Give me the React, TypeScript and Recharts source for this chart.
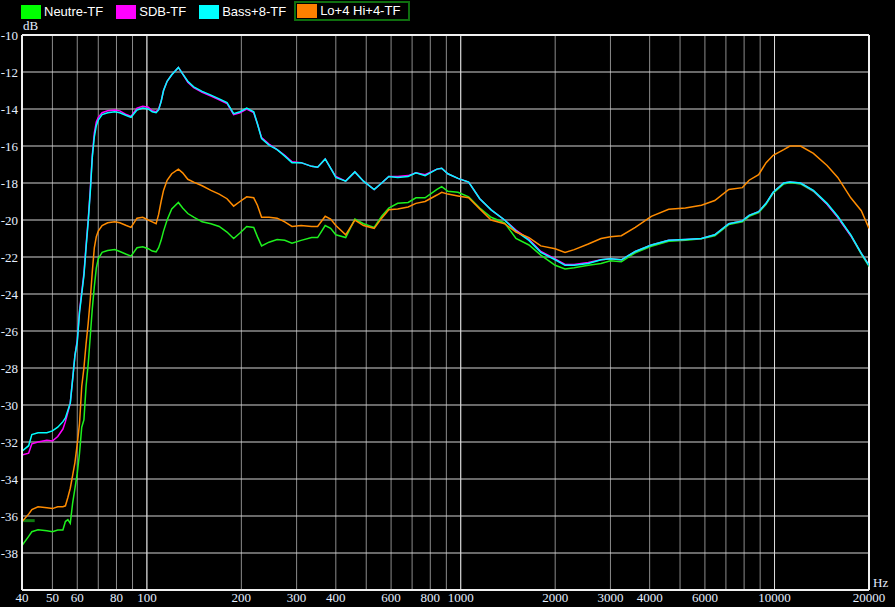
import { LineChart, Line, XAxis, YAxis, CartesianGrid, ReferenceLine } from 'recharts';

// frequency points (Hz)
const freqs = [
  40, 42, 43, 45, 48, 50, 52, 54, 55, 56, 57, 58, 59, 60, 61, 62, 63, 64, 65, 66, 67, 68, 69, 70,
  72, 75, 79, 82, 86, 89, 93, 97, 101, 104, 107, 109, 111, 113, 116, 120, 126, 130, 135, 141, 150,
  160, 170, 180, 189, 198, 208, 219, 225, 232, 245, 260, 275, 290, 310, 335, 350, 370, 385, 400,
  430, 460, 490, 530, 560, 590, 630, 680, 720, 770, 840, 870, 910, 980, 1060, 1150, 1250, 1380,
  1500, 1650, 1800, 2000, 2150, 2300, 2550, 2800, 3000, 3250, 3600, 4050, 4600, 5200, 5850, 6450,
  7150, 7900, 8300, 8900, 9400, 9900, 10700, 11200, 12100, 13300, 14700, 15900, 17500, 18900, 20000,
];

const neutre = [
  -37.6, -37.1, -36.85, -36.75, -36.8, -36.85, -36.76, -36.76, -36.3, -36.2, -36.4, -35.3, -34.5, -33.7, -32.6, -31.2, -30.8, -29.0, -27.8, -26.3, -24.8, -23.6, -22.6, -22.1,
  -21.75, -21.65, -21.6, -21.7, -21.85, -21.95, -21.5, -21.45, -21.55, -21.68, -21.72, -21.5, -21.1, -20.6, -20.0, -19.4, -19.05, -19.35, -19.65, -19.85, -20.1,
  -20.2, -20.35, -20.65, -21.0, -20.7, -20.35, -20.4, -20.9, -21.4, -21.2, -21.05, -21.1, -21.25, -21.1, -20.95, -20.95, -20.3, -20.45, -20.8,
  -20.95, -19.95, -20.2, -20.4, -19.8, -19.35, -19.1, -19.05, -18.8, -18.8, -18.35, -18.2, -18.45, -18.5, -18.75, -19.35, -19.85, -20.15,
  -21.0, -21.35, -21.9, -22.45, -22.65, -22.58, -22.45, -22.35, -22.2, -22.25, -21.77, -21.42, -21.15, -21.1, -21.02, -20.85,
  -20.25, -20.1, -19.8, -19.6, -19.15, -18.55, -18.05, -17.97, -18.05, -18.45, -19.15, -19.85, -20.85, -21.85, -22.5,
];

const sdb = [
  -32.7, -32.6, -32.1, -32.0, -31.9, -31.95, -31.7, -31.3, -30.9, -30.4, -29.9, -28.6, -27.3, -26.5, -24.9, -23.9, -22.9, -21.4, -20.0, -18.4, -16.5, -15.3, -14.7, -14.45,
  -14.2, -14.1, -14.05, -14.1, -14.3, -14.4, -13.95, -13.85, -13.9, -14.1, -14.15, -14.0, -13.6, -13.0, -12.5, -12.15, -11.75, -12.1, -12.55, -12.85, -13.1,
  -13.3, -13.5, -13.7, -14.3, -14.2, -14.0, -14.2, -14.8, -15.55, -15.9, -16.2, -16.5, -16.85, -16.9, -17.1, -17.15, -16.7, -17.2, -17.65,
  -17.9, -17.4, -17.9, -18.35, -18.0, -17.65, -17.65, -17.6, -17.45, -17.55, -17.25, -17.2, -17.5, -17.75, -17.95, -18.85, -19.45, -20.0,
  -20.55, -21.05, -21.7, -22.1, -22.4, -22.4, -22.3, -22.15, -22.1, -22.15, -21.7, -21.35, -21.1, -21.05, -21.0, -20.8,
  -20.2, -20.05, -19.75, -19.55, -19.1, -18.5, -18.0, -17.95, -18.0, -18.42, -19.15, -19.85, -20.85, -21.8, -22.45,
];

const bass8 = [
  -32.5, -32.2, -31.6, -31.5, -31.5, -31.4, -31.2, -30.9, -30.7, -30.3, -29.9, -28.6, -27.3, -26.6, -25.0, -24.0, -23.0, -21.5, -20.1, -18.5, -16.6, -15.5, -14.9, -14.6,
  -14.3, -14.2, -14.15, -14.2, -14.35, -14.45, -14.05, -13.95, -14.0, -14.15, -14.2, -14.05, -13.6, -13.0, -12.5, -12.15, -11.75, -12.1, -12.5, -12.8, -13.05,
  -13.25, -13.45, -13.65, -14.25, -14.15, -13.95, -14.15, -14.8, -15.6, -15.95, -16.2, -16.55, -16.9, -16.9, -17.1, -17.15, -16.7, -17.2, -17.7,
  -17.9, -17.4, -17.9, -18.35, -18.0, -17.65, -17.7, -17.65, -17.45, -17.6, -17.25, -17.2, -17.5, -17.75, -17.95, -18.85, -19.45, -20.0,
  -20.6, -21.1, -21.75, -22.15, -22.45, -22.45, -22.35, -22.15, -22.1, -22.15, -21.7, -21.35, -21.1, -21.05, -21.0, -20.8,
  -20.2, -20.05, -19.75, -19.55, -19.1, -18.5, -18.0, -17.95, -18.0, -18.4, -19.1, -19.8, -20.8, -21.8, -22.45,
];

const lohi = [
  -36.3, -35.9, -35.65, -35.5, -35.55, -35.6, -35.5, -35.5, -35.45, -35.0, -34.5, -33.8, -33.1, -32.1, -31.0, -29.0, -28.0, -26.7, -25.6, -24.3, -22.8, -21.5, -20.9, -20.6,
  -20.3, -20.15, -20.1, -20.15, -20.3, -20.4, -19.9, -19.85, -20.0, -20.1, -20.2, -19.7, -19.0, -18.4, -17.85, -17.5, -17.25, -17.45, -17.8, -17.95, -18.15,
  -18.4, -18.6, -18.85, -19.25, -19.0, -18.75, -18.8, -19.2, -19.85, -19.85, -19.9, -20.1, -20.35, -20.3, -20.35, -20.35, -19.8, -19.95, -20.3,
  -20.8, -20.0, -20.3, -20.45, -19.9, -19.45, -19.4, -19.3, -19.1, -19.0, -18.65, -18.5, -18.6, -18.7, -18.8, -19.4, -20.0, -20.2,
  -20.65, -20.95, -21.4, -21.55, -21.75, -21.6, -21.3, -21.0, -20.9, -20.85, -20.4, -19.8, -19.42, -19.35, -19.2, -18.95,
  -18.35, -18.25, -17.85, -17.55, -16.9, -16.5, -16.2, -16.0, -16.0, -16.4, -17.05, -17.7, -18.8, -19.5, -20.45,
];

const series = [
  { key: 'neutre', name: 'Neutre-TF', color: '#1ef01e', swatch: '#00ff00' },
  { key: 'sdb', name: 'SDB-TF', color: '#ff00ff', swatch: '#ff00ff' },
  { key: 'bass8', name: 'Bass+8-TF', color: '#00ffff', swatch: '#00ffff' },
  { key: 'lohi', name: 'Lo+4 Hi+4-TF', color: '#ff8c00', swatch: '#ff8000' },
];

const xGrid = [40, 50, 60, 70, 80, 90, 100, 200, 300, 400, 500, 600, 700, 800, 900, 1000,
  2000, 3000, 4000, 5000, 6000, 7000, 8000, 9000, 10000, 20000];
const xLabels = [40, 50, 60, 80, 100, 200, 300, 400, 600, 800, 1000, 2000, 3000, 4000, 6000, 10000, 20000];
const decades = [100, 1000, 10000];
const yTicks = [-38, -36, -34, -32, -30, -28, -26, -24, -22, -20, -18, -16, -14, -12, -10];

const data = freqs.map((f, i) => ({
  f,
  neutre: neutre[i],
  sdb: sdb[i],
  bass8: bass8[i],
  lohi: lohi[i],
}));

const tickStyle = { fill: '#e4eeff', fontSize: 13, fontFamily: '"Liberation Serif", "Times New Roman", serif' };

export default function App() {
  return (
    <div style={{ position: 'absolute', left: 0, top: 0, width: 895, height: 607, background: '#000', overflow: 'hidden' }}>
      <div style={{ position: 'absolute', left: 21, top: 2, display: 'flex', alignItems: 'center', fontFamily: '"Liberation Sans", Arial, sans-serif', fontSize: 13, color: '#fff' }}>
        {series.map((s, i) => (
          <div
            key={s.key}
            style={{
              display: 'flex',
              alignItems: 'center',
              marginLeft: i === 0 ? 0 : i === 3 ? 8 : 13,
              padding: i === 3 ? '1px 8px 1px 1px' : '2px 0',
              border: i === 3 ? '2px solid #0f6e0f' : 'none',
              marginTop: i === 3 ? -1 : 0,
            }}
          >
            <div style={{ width: 20, height: 14, background: s.swatch, marginRight: 3 }} />
            <span style={{ lineHeight: '14px' }}>{s.name}</span>
          </div>
        ))}
      </div>
      <div style={{ position: 'absolute', left: 23, top: 18, color: '#e4eeff', fontSize: 13, fontFamily: '"Liberation Serif", serif' }}>dB</div>
      <div style={{ position: 'absolute', left: 873, top: 575, color: '#e4eeff', fontSize: 13, fontFamily: '"Liberation Serif", serif' }}>Hz</div>
      <LineChart width={895} height={607} data={data} margin={{ top: 35, right: 26, bottom: 0, left: 0 }}>
        <CartesianGrid horizontal={false} vertical stroke="#8c8c8c" strokeWidth={1} />
        <CartesianGrid horizontal vertical={false} stroke="#d2d2d2" strokeWidth={1} />
        <XAxis
          dataKey="f"
          type="number"
          scale="log"
          domain={[40, 20000]}
          allowDataOverflow
          ticks={xGrid}
          tickFormatter={(v: number) => (xLabels.includes(v) ? String(v) : '')}
          interval={0}
          height={17}
          tickSize={0}
          tickMargin={3}
          tick={tickStyle}
          axisLine={{ stroke: '#f0f0f0', strokeWidth: 2 }}
        />
        <YAxis
          type="number"
          domain={[-40, -10]}
          ticks={yTicks}
          interval={0}
          width={22}
          tickSize={0}
          tickMargin={4}
          tick={tickStyle}
          axisLine={{ stroke: '#f0f0f0', strokeWidth: 2 }}
        />
        {decades.map((d) => (
          <ReferenceLine key={d} x={d} stroke="#dcdcdc" strokeWidth={1} />
        ))}
        <ReferenceLine x={20000} stroke="#f0f0f0" strokeWidth={2} />
        <ReferenceLine y={-10} stroke="#f0f0f0" strokeWidth={2} />
        <ReferenceLine segment={[{ x: 40, y: -36.25 }, { x: 43.9, y: -36.25 }]} stroke="#0f7a0f" strokeWidth={3} />
        {series.map((s) => (
          <Line
            key={s.key}
            dataKey={s.key}
            name={s.name}
            type="linear"
            stroke={s.color}
            strokeWidth={1.5}
            dot={false}
            isAnimationActive={false}
          />
        ))}
      </LineChart>
    </div>
  );
}
